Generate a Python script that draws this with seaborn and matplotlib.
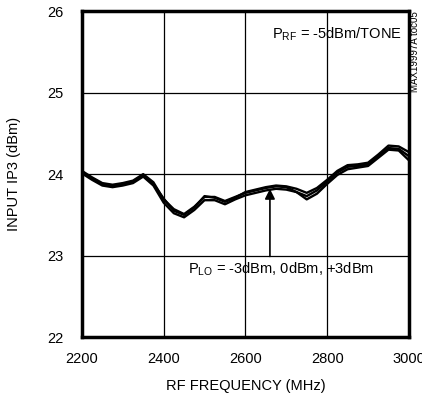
import matplotlib
matplotlib.use("Agg")
import matplotlib.pyplot as plt
import seaborn as sns
import pandas as pd

freq = [2200, 2225, 2250, 2275, 2300, 2325, 2350, 2375, 2400, 2425, 2450, 2475, 2500,
        2525, 2550, 2575, 2600, 2625, 2650, 2675, 2700, 2725, 2750, 2775, 2800, 2825,
        2850, 2875, 2900, 2925, 2950, 2975, 3000]
ip3_lo_m3 = [24.04, 23.96, 23.89, 23.87, 23.89, 23.92, 24.00, 23.90, 23.69, 23.57, 23.51,
             23.60, 23.72, 23.72, 23.67, 23.72, 23.77, 23.80, 23.83, 23.85, 23.84, 23.78,
             23.69, 23.76, 23.88, 23.99, 24.06, 24.08, 24.10, 24.20, 24.30, 24.29, 24.17]
ip3_lo_0 = [24.01, 23.93, 23.86, 23.84, 23.86, 23.89, 23.97, 23.86, 23.65, 23.52, 23.47,
            23.56, 23.68, 23.68, 23.63, 23.69, 23.74, 23.77, 23.80, 23.82, 23.81, 23.78,
            23.73, 23.80, 23.91, 24.02, 24.09, 24.10, 24.12, 24.22, 24.32, 24.31, 24.22]
ip3_lo_p3 = [24.02, 23.95, 23.88, 23.86, 23.88, 23.91, 23.99, 23.88, 23.70, 23.55, 23.50,
             23.59, 23.73, 23.71, 23.66, 23.71, 23.78, 23.81, 23.84, 23.86, 23.85, 23.82,
             23.77, 23.83, 23.93, 24.04, 24.11, 24.12, 24.14, 24.24, 24.35, 24.34, 24.27]
lo_levels = ["-3dBm", "0dBm", "+3dBm"]

x_ticks = [2200, 2400, 2600, 2800, 3000]
y_ticks = [22, 23, 24, 25, 26]

rows = []
for lvl, vals in zip(lo_levels, [ip3_lo_m3, ip3_lo_0, ip3_lo_p3]):
    for f, v in zip(freq, vals):
        rows.append({"freq": f, "ip3": v, "lo": lvl})
df = pd.DataFrame(rows)

sns.set_theme(style="white")
plt.rcParams['font.family'] = ['Liberation Sans', 'DejaVu Sans']

fig = plt.figure(figsize=(4.22, 3.98), dpi=100)
ax = fig.add_axes([0.194, 0.153, 0.775, 0.819])

sns.lineplot(data=df, x="freq", y="ip3", units="lo", estimator=None,
             color="black", linewidth=1.7, ax=ax, legend=False)

ax.set_xlim(2200, 3000)
ax.set_ylim(22, 26)
ax.set_xticks(x_ticks)
ax.set_yticks(y_ticks)
ax.set_xticklabels([str(t) for t in x_ticks])
ax.set_yticklabels([str(t) for t in y_ticks])
ax.grid(True, color="black", linewidth=0.9)
ax.set_axisbelow(True)
for s in ax.spines.values():
    s.set_visible(True)
    s.set_color("black")
    s.set_linewidth(2.5)
ax.tick_params(axis="x", length=0, labelsize=10.5, colors="black", pad=11)
ax.tick_params(axis="y", length=0, labelsize=10.5, colors="black", pad=13)
ax.set_xlabel("RF FREQUENCY (MHz)", fontsize=10.5, color="black", labelpad=9)
ax.set_ylabel("INPUT IP3 (dBm)", fontsize=10.5, color="black", labelpad=19)

ax.text(2983, 25.72, r"P$_{\mathregular{RF}}$ = -5dBm/TONE", ha="right", va="center",
        fontsize=10.5, color="black")
ax.text(2460, 22.83, r"P$_{\mathregular{LO}}$ = -3dBm, 0dBm, +3dBm", ha="left", va="center",
        fontsize=10.5, color="black")
ax.annotate("", xy=(2660, 23.82), xytext=(2660, 22.99),
            arrowprops=dict(arrowstyle="-|>", color="black", lw=1.2,
                            mutation_scale=15, shrinkA=0, shrinkB=0))
fig.text(0.984, 0.87, "MAX19997A toc05", rotation=90, ha="center", va="center",
         fontsize=7, color="black")

fig.savefig("out.png", dpi=100)
